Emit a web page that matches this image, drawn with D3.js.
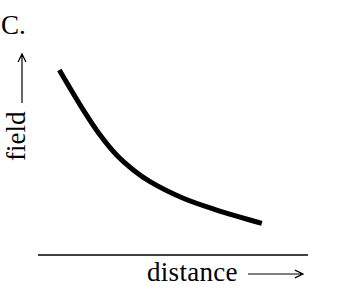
<!DOCTYPE html>
<html>
<head>
<meta charset="utf-8">
<script src="https://cdn.jsdelivr.net/npm/d3@7"></script>
<style>
  body { margin: 0; background: #fff; }
  text { font-family: "Liberation Serif", "Times New Roman", serif; fill: #000; }
</style>
</head>
<body>
<div class="chart"></div>
<script>
// curve (arbitrary units 0-100)
var distance = [7.9, 16.8, 23.0, 29.1, 35.3, 41.5, 53.8, 66.2, 82.9];
var field = [88.1, 69.0, 57.1, 47.6, 40.5, 34.9, 27.0, 21.4, 15.1];
var panelLabel = `C.`;
var xLabel = `distance`;
var yLabel = `field`;

var data = distance.map((d, i) => ({distance: d, field: field[i]}));

var margin = {top: 45, bottom: 33, left: 38, right: 32};
var fullWidth = 340;
var fullHeight = 288;
var width = fullWidth - margin.left - margin.right;
var height = fullHeight - margin.top - margin.bottom;

var svg = d3.select(`.chart`)
    .append(`svg`)
    .attr(`width`, fullWidth)
    .attr(`height`, fullHeight)
    .attr(`viewBox`, `0 0 ${fullWidth} ${fullHeight}`);

var g = svg.append(`g`)
    .attr(`transform`, `translate(${margin.left},${margin.top})`);

var xScale = d3.scaleLinear()
    .domain([0, 100])
    .range([0, width]);

var yScale = d3.scaleLinear()
    .domain([0, 100])
    .range([height, 0]);

// bare x axis: just the line
g.append(`line`)
    .attr(`x1`, xScale(0))
    .attr(`x2`, xScale(100))
    .attr(`y1`, yScale(0))
    .attr(`y2`, yScale(0))
    .style(`stroke`, `#000`)
    .style(`stroke-width`, 1.5);

var line = d3.line()
    .x(d => xScale(d.distance))
    .y(d => yScale(d.field))
    .curve(d3.curveCatmullRom);

g.append(`path`)
    .datum(data)
    .attr(`d`, line)
    .style(`fill`, `none`)
    .style(`stroke`, `#000`)
    .style(`stroke-width`, 5);

// labels
svg.append(`text`)
    .attr(`x`, 1)
    .attr(`y`, 34)
    .style(`font-size`, `27px`)
    .text(panelLabel);

svg.append(`text`)
    .attr(`transform`, `translate(25,161) rotate(-90)`)
    .style(`font-size`, `27px`)
    .text(yLabel);

svg.append(`text`)
    .attr(`x`, 147)
    .attr(`y`, 281)
    .style(`font-size`, `27px`)
    .style(`letter-spacing`, `0.3px`)
    .text(xLabel);

// arrows
function arrow(x1, y1, x2, y2) {
    var a = Math.atan2(y2 - y1, x2 - x1);
    var len = 9, spread = 0.45;
    var p = d3.path();
    p.moveTo(x1, y1);
    p.lineTo(x2, y2);
    p.moveTo(x2 - len * Math.cos(a - spread), y2 - len * Math.sin(a - spread));
    p.lineTo(x2, y2);
    p.lineTo(x2 - len * Math.cos(a + spread), y2 - len * Math.sin(a + spread));
    svg.append(`path`)
        .attr(`d`, p.toString())
        .style(`fill`, `none`)
        .style(`stroke`, `#000`)
        .style(`stroke-width`, 1.2);
}
arrow(22, 103, 22, 54);
arrow(248, 274, 303, 274);
</script>
</body>
</html>
